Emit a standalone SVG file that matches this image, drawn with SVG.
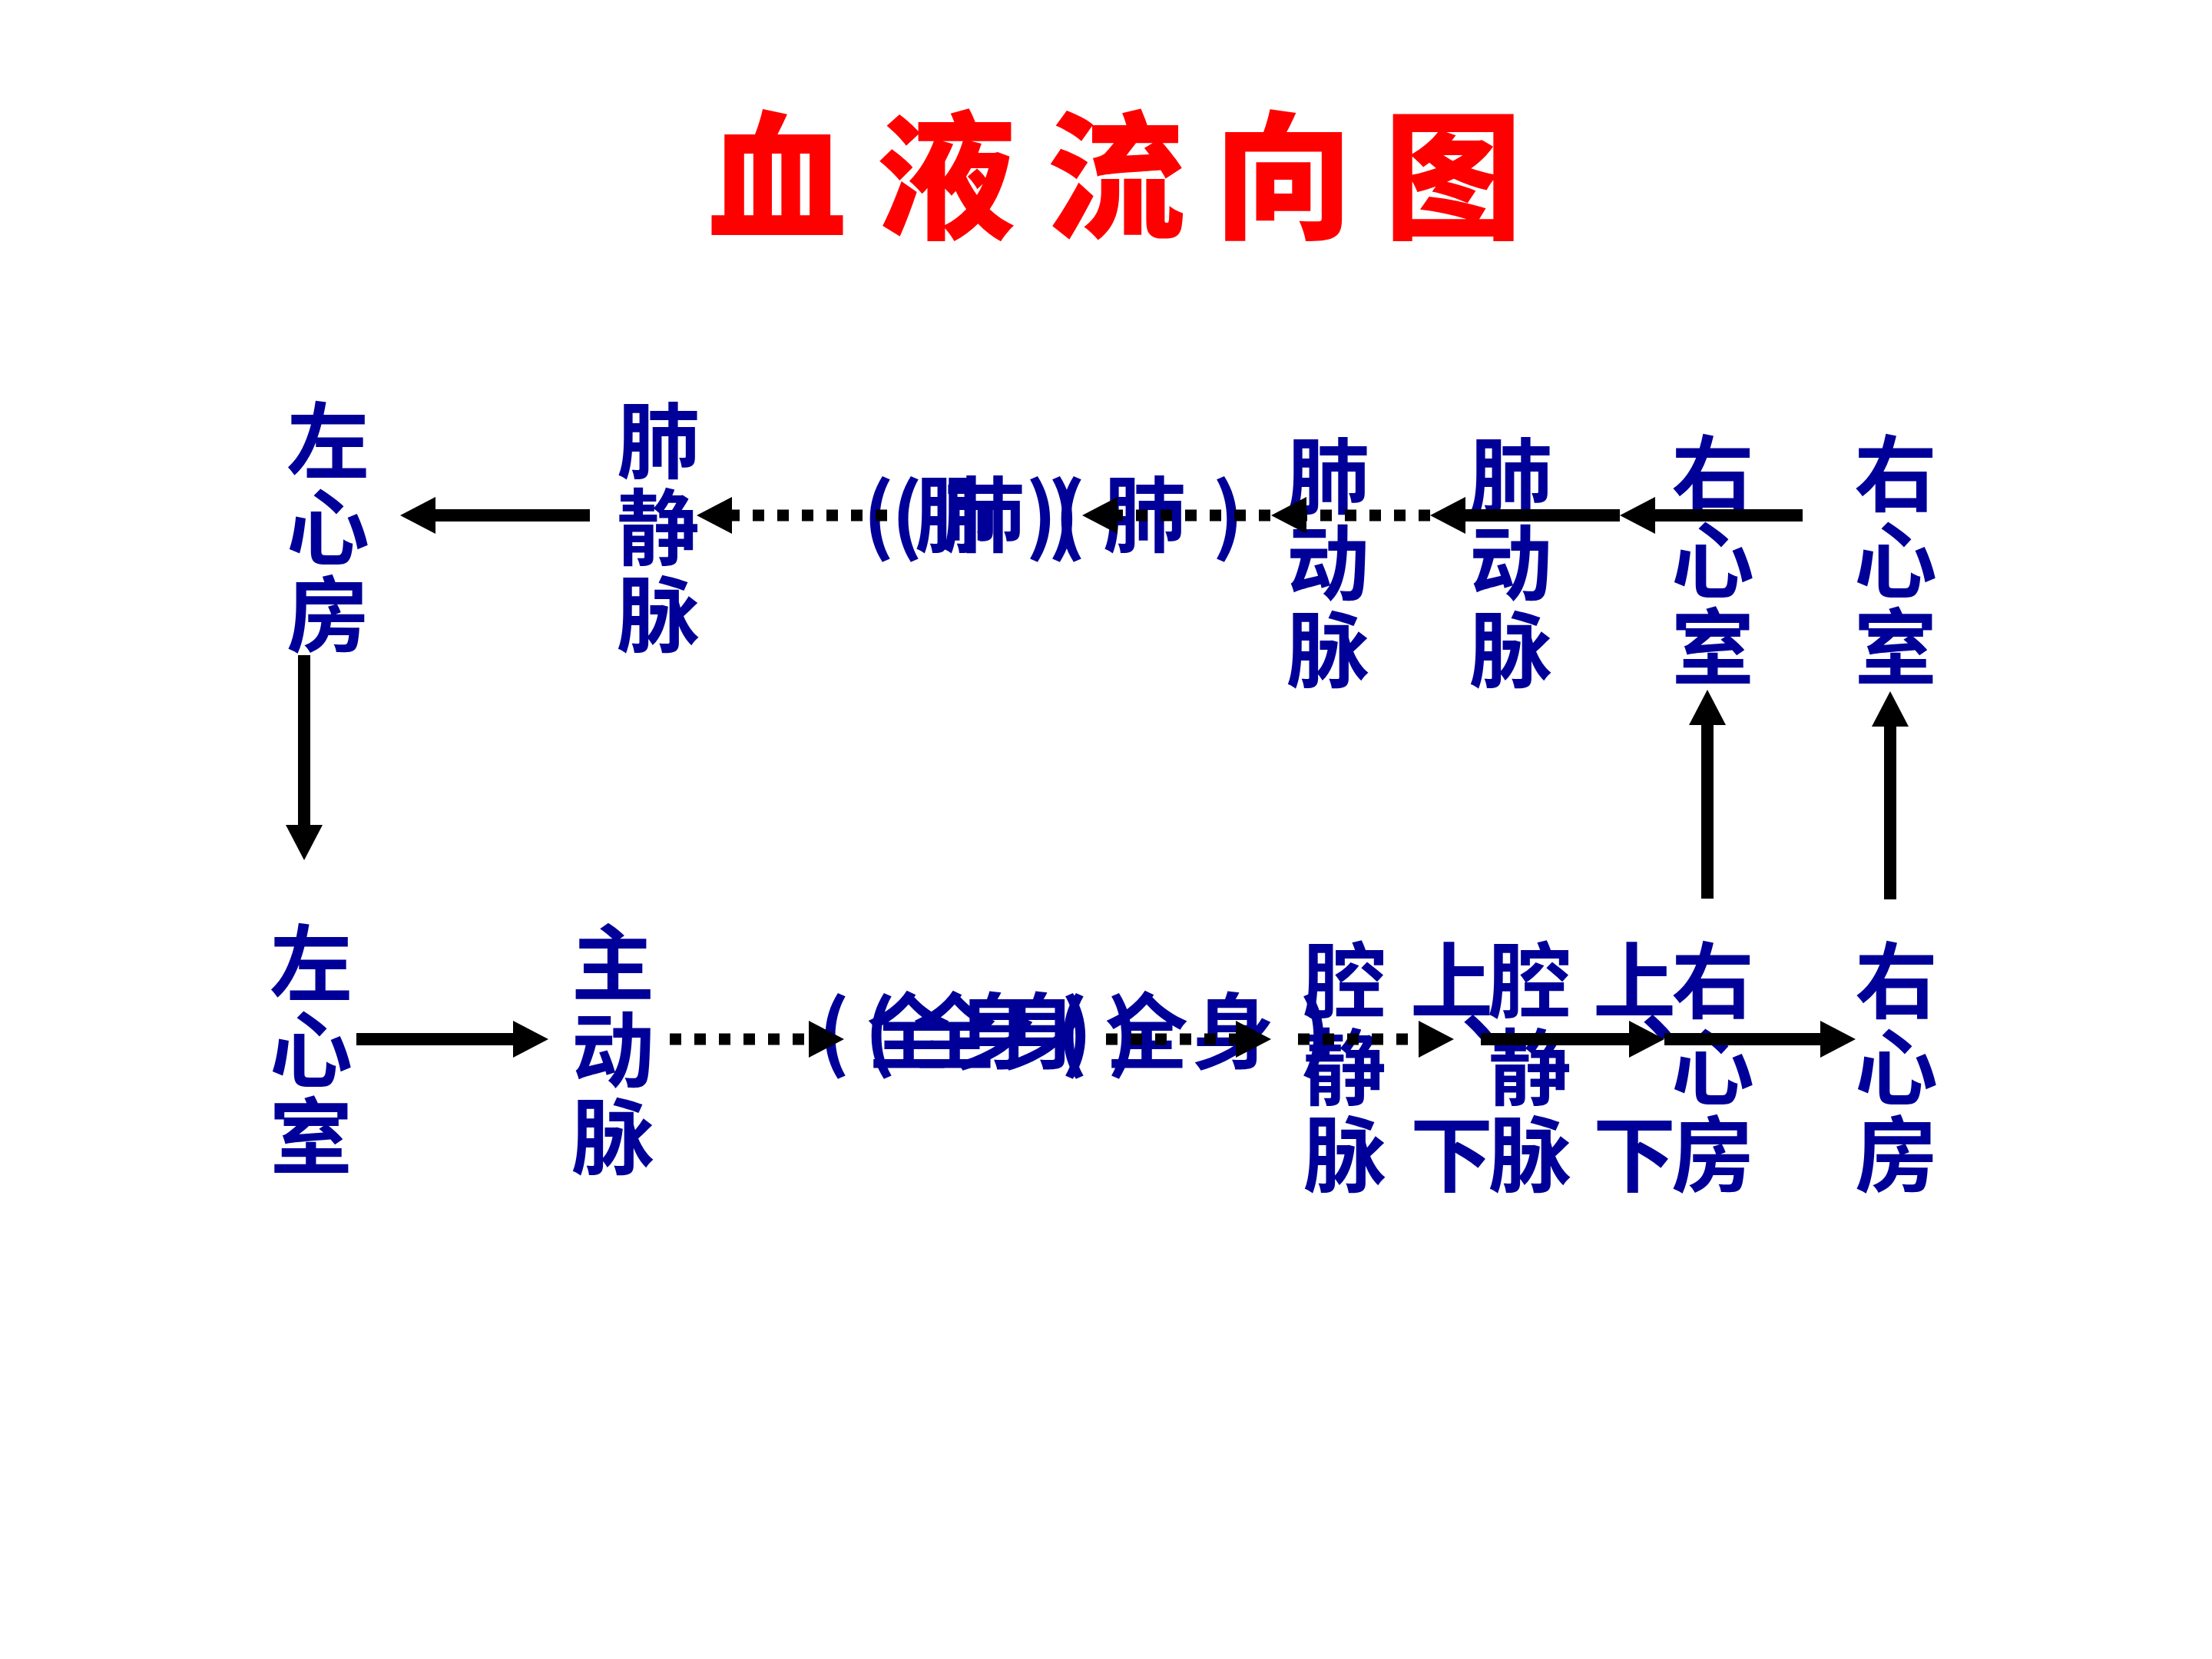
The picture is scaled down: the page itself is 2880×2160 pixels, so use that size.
<svg xmlns="http://www.w3.org/2000/svg" width="2880" height="2160" viewBox="0 0 2880 2160">
<defs>
<style>
.title{font-family:"Noto Sans CJK SC","Noto Sans CJK JP",sans-serif;font-weight:900;font-size:180px;fill:#ff0000;text-anchor:middle}
.n{font-family:"Noto Sans CJK SC","Noto Sans CJK JP",sans-serif;font-weight:700;font-size:108px;fill:#000099;text-anchor:middle}
.st{text-anchor:start}
.s{fill:none;stroke:#000;stroke-width:16}
.d{fill:none;stroke:#000;stroke-width:15;stroke-dasharray:15 17}
</style>
<marker id="ah" markerUnits="userSpaceOnUse" markerWidth="46" markerHeight="48" refX="0" refY="24" orient="auto" overflow="visible"><path d="M0,0 L46,24 L0,48 z" fill="#000"/></marker>
</defs>
<rect width="2880" height="2160" fill="#fff"/>
<g id="title"><text class="title" x="1012 1232 1453 1671 1892" y="296">血液流向图</text></g>

<g id="left-atrium"><text class="n"><tspan x="427" y="614">左</tspan><tspan x="427" y="727">心</tspan><tspan x="427" y="840">房</tspan></text></g>
<g id="pulmonary-vein"><text class="n"><tspan x="857" y="614">肺</tspan><tspan x="857" y="727">静</tspan><tspan x="857" y="840">脉</tspan></text></g>
<g id="lung-b"><text class="n" y="710"><tspan x="1144">(</tspan><tspan x="1245">肺</tspan><tspan x="1356">)</tspan></text></g>
<g id="lung-c"><text class="n" y="710"><tspan x="1181">(</tspan><tspan x="1280">肺</tspan><tspan x="1385">)</tspan></text></g>
<g id="lung-a"><text class="n" y="710"><tspan x="1393">(</tspan><tspan x="1490">肺</tspan><tspan x="1599">)</tspan></text></g>
<g id="pulmonary-artery-b"><text class="n"><tspan x="1729" y="660">肺</tspan><tspan x="1729" y="773">动</tspan><tspan x="1729" y="886">脉</tspan></text></g>
<g id="pulmonary-artery-a"><text class="n"><tspan x="1967" y="660">肺</tspan><tspan x="1967" y="773">动</tspan><tspan x="1967" y="886">脉</tspan></text></g>
<g id="right-ventricle-b"><text class="n"><tspan x="2230" y="657">右</tspan><tspan x="2230" y="770">心</tspan><tspan x="2230" y="883">室</tspan></text></g>
<g id="right-ventricle-a"><text class="n"><tspan x="2468" y="657">右</tspan><tspan x="2468" y="770">心</tspan><tspan x="2468" y="883">室</tspan></text></g>

<g id="left-ventricle"><text class="n"><tspan x="405" y="1294">左</tspan><tspan x="405" y="1407">心</tspan><tspan x="405" y="1520">室</tspan></text></g>
<g id="aorta"><text class="n"><tspan x="798" y="1294">主</tspan><tspan x="798" y="1407">动</tspan><tspan x="798" y="1520">脉</tspan></text></g>
<g id="body-b"><text class="n" y="1383"><tspan x="1086">(</tspan><tspan x="1183">全</tspan><tspan x="1295">身</tspan><tspan x="1402">)</tspan></text></g>
<g id="body-c"><text class="n" y="1383"><tspan x="1146">(</tspan><tspan x="1243">全</tspan><tspan x="1355">身</tspan><tspan x="1462">)</tspan></text></g>
<g id="body-a"><text class="n" y="1383"><tspan x="1396">(</tspan><tspan x="1493">全</tspan><tspan x="1605">身</tspan><tspan x="1712">)</tspan></text></g>
<g id="vena-cava-b"><text class="n"><tspan x="1751" y="1317">腔</tspan><tspan x="1751" y="1430">静</tspan><tspan x="1751" y="1543">脉</tspan><tspan x="1890" y="1317">上</tspan><tspan class="st" x="1902" y="1347">、</tspan><tspan x="1890" y="1543">下</tspan></text></g>
<g id="vena-cava-a"><text class="n"><tspan x="1992" y="1317">腔</tspan><tspan x="1992" y="1430">静</tspan><tspan x="1992" y="1543">脉</tspan><tspan x="2128" y="1317">上</tspan><tspan class="st" x="2136" y="1347">、</tspan><tspan x="2128" y="1543">下</tspan></text></g>
<g id="right-atrium-b"><text class="n"><tspan x="2230" y="1317">右</tspan><tspan x="2230" y="1430">心</tspan><tspan x="2230" y="1543">房</tspan></text></g>
<g id="right-atrium-a"><text class="n"><tspan x="2469" y="1317">右</tspan><tspan x="2469" y="1430">心</tspan><tspan x="2469" y="1543">房</tspan></text></g>

<g id="connectors">
<line class="s" x1="2347" y1="671" x2="2155" y2="671" marker-end="url(#ah)"/>
<line class="s" x1="2109" y1="671" x2="1908" y2="671" marker-end="url(#ah)"/>
<line class="d" x1="1862" y1="671" x2="1701" y2="671" marker-end="url(#ah)"/>
<line class="d" x1="1654" y1="671" x2="1455" y2="671" marker-end="url(#ah)"/>
<line class="d" x1="1155" y1="671" x2="953" y2="671" marker-end="url(#ah)"/>
<line class="s" x1="768" y1="671" x2="567" y2="671" marker-end="url(#ah)"/>
<line class="s" x1="396" y1="853" x2="396" y2="1074" marker-end="url(#ah)"/>
<line class="s" x1="464" y1="1353" x2="668" y2="1353" marker-end="url(#ah)"/>
<line class="d" x1="872" y1="1353" x2="1053" y2="1353" marker-end="url(#ah)"/>
<line class="d" x1="1440" y1="1353" x2="1609" y2="1353" marker-end="url(#ah)"/>
<line class="d" x1="1690" y1="1353" x2="1847" y2="1353" marker-end="url(#ah)"/>
<line class="s" x1="1928" y1="1353" x2="2121" y2="1353" marker-end="url(#ah)"/>
<line class="s" x1="2167" y1="1353" x2="2370" y2="1353" marker-end="url(#ah)"/>
<line class="s" x1="2223" y1="1170" x2="2223" y2="944" marker-end="url(#ah)"/>
<line class="s" x1="2461" y1="1171" x2="2461" y2="946" marker-end="url(#ah)"/>
</g>
</svg>
